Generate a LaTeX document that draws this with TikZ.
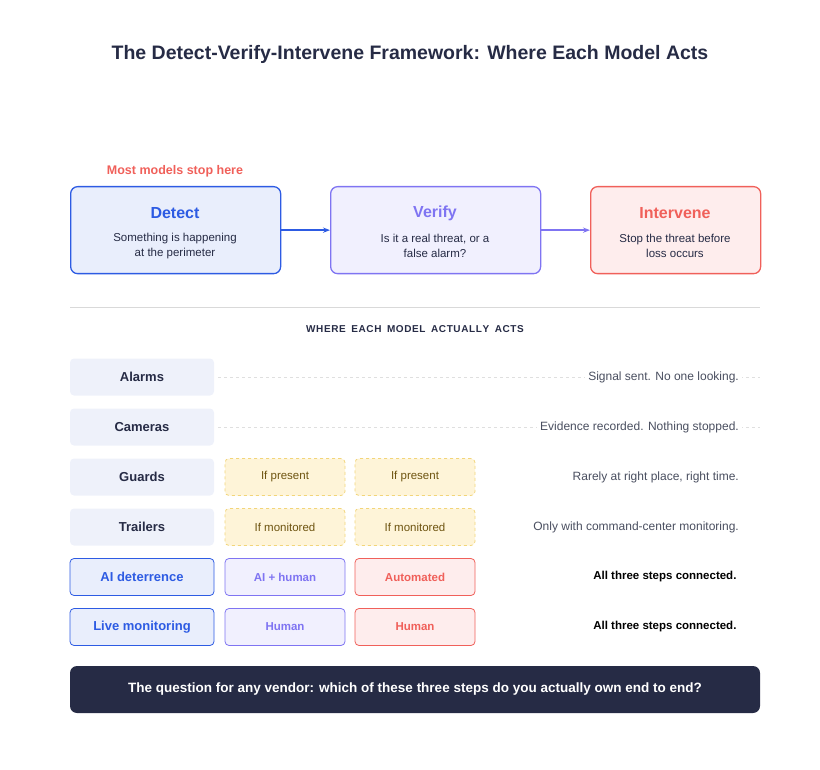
\documentclass[tikz,border=0pt]{standalone}
\usepackage{fontspec}
\setmainfont{Liberation Sans}
\usetikzlibrary{arrows.meta}
\definecolor{navy}{HTML}{262B45}
\definecolor{bblue}{HTML}{2D5BE3}
\definecolor{lblue}{HTML}{E9EEFC}
\definecolor{purp}{HTML}{7F74F2}
\definecolor{lpurp}{HTML}{F1F0FE}
\definecolor{red1}{HTML}{F0605A}
\definecolor{lred}{HTML}{FEEDED}
\definecolor{yel}{HTML}{F2D57A}
\definecolor{lyel}{HTML}{FEF4D8}
\definecolor{ytext}{HTML}{6E5410}
\definecolor{gtext}{HTML}{4A4F60}
\definecolor{rowbg}{HTML}{EEF1FA}
\begin{document}
\begin{tikzpicture}[x=1pt,y=-1pt,
 stage/.style={draw,line width=1.3pt,rounded corners=7pt,minimum width=210pt,minimum height=87pt,anchor=north west},
 rowlab/.style={rounded corners=4pt,fill=rowbg,minimum width=144pt,minimum height=37pt,font=\bfseries\fontsize{13}{15}\selectfont,text=navy},
 cell/.style={rounded corners=4pt,line width=0.8pt,minimum width=120pt,minimum height=37pt,font=\fontsize{11.5}{13}\selectfont},
 ycell/.style={cell,draw=yel,dashed,fill=lyel,text=ytext},
 note/.style={anchor=east,font=\fontsize{12}{14}\selectfont,text=gtext,fill=white,inner xsep=3pt},
 bnote/.style={anchor=east,font=\bfseries\fontsize{11.5}{14}\selectfont,text=black},
 guide/.style={draw=gray!25,dashed,line width=0.8pt}]
\useasboundingbox (0,0) rectangle (820,770);
\node[font=\bfseries\fontsize{19.5}{22}\selectfont,text=navy] (title) at (410,54) {The Detect-Verify-Intervene Framework: Where Each Model Acts};
\node[font=\bfseries\fontsize{12.5}{15}\selectfont,text=red1] (stop) at (175,171) {Most models stop here};
\node[stage,draw=bblue,fill=lblue] (det) at (70,186) {};
\node[stage,draw=purp,fill=lpurp] (ver) at (330,186) {};
\node[stage,draw=red1,fill=lred,minimum width=170pt] (int) at (590,186) {};
\node[font=\bfseries\fontsize{16}{18}\selectfont,text=bblue] (dt) at (175,213) {Detect};
\node[font=\fontsize{11.5}{15.5}\selectfont,text=navy,align=center] (ds) at (175,246) {Something is happening\\at the perimeter};
\node[font=\bfseries\fontsize{16}{18}\selectfont,text=purp] (vt) at (435,213) {Verify};
\node[font=\fontsize{11.5}{15.5}\selectfont,text=navy,align=center] (vs) at (435,246) {Is it a real threat, or a\\false alarm?};
\node[font=\bfseries\fontsize{16}{18}\selectfont,text=red1] (it) at (675,213) {Intervene};
\node[font=\fontsize{11.5}{15.5}\selectfont,text=navy,align=center] (is) at (675,246) {Stop the threat before\\loss occurs};
\draw[bblue,line width=1.3pt,-{Stealth[length=7pt]}] (det.east) -- (ver.west);
\draw[purp,line width=1.3pt,-{Stealth[length=7pt]}] (ver.east) -- (int.west);
\coordinate (dl) at (70,307); \coordinate (dr) at (760,307);
\draw[gray!30,line width=0.8pt] (dl) -- (dr);
\node[font=\bfseries\fontsize{10}{12}\selectfont,text=navy] (wh) at (415,329) {W\kern.6pt H\kern.6pt E\kern.6pt R\kern.6pt E\ \ E\kern.6pt A\kern.6pt C\kern.6pt H\ \ M\kern.6pt O\kern.6pt D\kern.6pt E\kern.6pt L\ \ A\kern.6pt C\kern.6pt T\kern.6pt U\kern.6pt A\kern.6pt L\kern.6pt L\kern.6pt Y\ \ A\kern.6pt C\kern.6pt T\kern.6pt S};
% rows
\node[rowlab] (r1) at (142,377) {Alarms};
\node[rowlab] (r2) at (142,427) {Cameras};
\node[rowlab] (r3) at (142,477) {Guards};
\node[rowlab] (r4) at (142,527) {Trailers};
\node[rowlab,draw=bblue,fill=lblue,text=bblue,line width=0.8pt] (r5) at (142,577) {AI deterrence};
\node[rowlab,draw=bblue,fill=lblue,text=bblue,line width=0.8pt] (r6) at (142,627) {Live monitoring};
\coordinate (g1) at (760,377); \coordinate (g2) at (760,427);
\draw[guide] (r1.east) ++(4,0) -- (g1);
\draw[guide] (r2.east) ++(4,0) -- (g2);
\node[note] (n1) at (742,377) {Signal sent. No one looking.};
\node[note] (n2) at (742,427) {Evidence recorded. Nothing stopped.};
\node[ycell] (c31) at (285,477) {If present};
\node[ycell] (c32) at (415,477) {If present};
\node[ycell] (c41) at (285,527) {If monitored};
\node[ycell] (c42) at (415,527) {If monitored};
\node[note] (n3) at (742,477) {Rarely at right place, right time.};
\node[note] (n4) at (742,527) {Only with command-center monitoring.};
\node[cell,draw=purp,fill=lpurp,text=purp,font=\bfseries\fontsize{11.5}{13}\selectfont] (c51) at (285,577) {AI + human};
\node[cell,draw=red1,fill=lred,text=red1,font=\bfseries\fontsize{11.5}{13}\selectfont] (c52) at (415,577) {Automated};
\node[cell,draw=purp,fill=lpurp,text=purp,font=\bfseries\fontsize{11.5}{13}\selectfont] (c61) at (285,627) {Human};
\node[cell,draw=red1,fill=lred,text=red1,font=\bfseries\fontsize{11.5}{13}\selectfont] (c62) at (415,627) {Human};
\node[bnote] (n5) at (740,577) {All three steps connected.};
\node[bnote] (n6) at (740,627) {All three steps connected.};
\node[fill=navy,rounded corners=7pt,minimum width=690pt,minimum height=47pt,text=white,font=\bfseries\fontsize{13.5}{16}\selectfont] (bar) at (415,689.5) {The question for any vendor: which of these three steps do you actually own end to end?};
\end{tikzpicture}
\end{document}
